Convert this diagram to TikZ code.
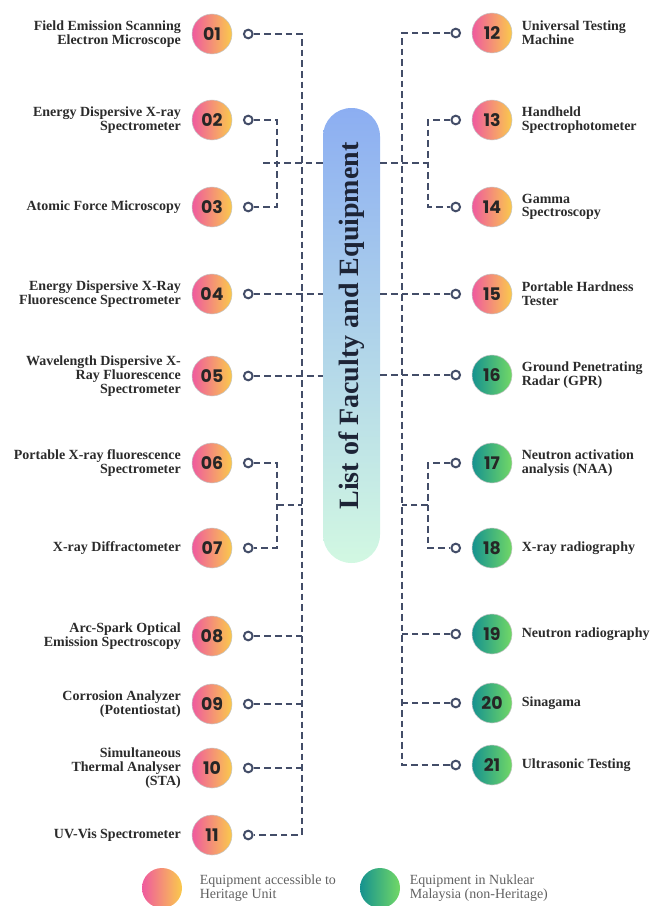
\documentclass[tikz,border=0pt]{standalone}
\usepackage{fontspec}
\setmainfont{Liberation Serif}
\newfontfamily\numfont{Poppins}
\usepackage{tikz}
\usetikzlibrary{positioning}
\definecolor{heritpink}{HTML}{EF5A9E}
\definecolor{heritgold}{HTML}{FACA4C}
\definecolor{nukteal}{HTML}{15928F}
\definecolor{nukgreen}{HTML}{72D866}
\definecolor{linkgray}{HTML}{434D68}
\definecolor{pilltop}{HTML}{8CAEF2}
\definecolor{pillbottom}{HTML}{D2F8E2}
\definecolor{labelink}{HTML}{2B2B2B}
\definecolor{titleink}{HTML}{1D2436}
\tikzstyle{heritage} = [circle,
					  minimum size=30pt,
					  inner sep=0pt,
					  left color=heritpink,
					  right color=heritgold,
					  draw=gray!45,
					  line width=0.4pt,
					  font=\numfont\bfseries\fontsize{13}{13}\selectfont,
					  text=black!85,
					 ]
\tikzstyle{nuklear} = [circle,
					  minimum size=30pt,
					  inner sep=0pt,
					  left color=nukteal,
					  right color=nukgreen,
					  draw=gray!45,
					  line width=0.4pt,
					  font=\numfont\bfseries\fontsize{13}{13}\selectfont,
					  text=black!85,
					 ]
\tikzstyle{port} = [circle,
					  minimum size=6.5pt,
					  inner sep=0pt,
					  draw=linkgray,
					  line width=1.5pt,
					  fill=white,
					 ]
\tikzstyle{leftlabel} = [align=right,
					  inner sep=0pt,
					  font=\bfseries\fontsize{10.5}{10.3}\selectfont,
					  text=labelink,
					 ]
\tikzstyle{rightlabel} = [align=left,
					  inner sep=0pt,
					  font=\bfseries\fontsize{10.5}{10.3}\selectfont,
					  text=labelink,
					 ]
\tikzstyle{legendtext} = [align=left,
					  inner sep=0pt,
					  font=\fontsize{10.5}{10.5}\selectfont,
					  text=black!62,
					 ]
\tikzstyle{pillbox} = [rectangle,
					  rounded corners=21.3pt,
					  minimum width=42.75pt,
					  minimum height=341.25pt,
					  top color=pilltop,
					  bottom color=pillbottom,
					 ]
\tikzstyle{link} = [draw=linkgray, line width=2pt, dash pattern=on 5pt off 3pt]

\begin{document}
\begin{tikzpicture}[x=0.75pt, y=-0.75pt]
\useasboundingbox (0,0) rectangle (653,906);

\node (pill) [pillbox] at (351.5,335.5) {};
\node (title) [rotate=90, font=\bfseries\fontsize{21}{21}\selectfont, text=titleink] at (352,326) {List of Faculty and Equipment};

% heritage unit side
\node (c01) [heritage] at (212,34) {01};
\node (c02) [heritage] at (212,120) {02};
\node (c03) [heritage] at (212,207) {03};
\node (c04) [heritage] at (212,294) {04};
\node (c05) [heritage] at (212,376) {05};
\node (c06) [heritage] at (212,463) {06};
\node (c07) [heritage] at (212,548) {07};
\node (c08) [heritage] at (212,636) {08};
\node (c09) [heritage] at (212,704) {09};
\node (c10) [heritage] at (212,768) {10};
\node (c11) [heritage] at (212,835) {11};

\node (l01) [leftlabel, left=8pt of c01] {Field Emission Scanning\\Electron Microscope};
\node (l02) [leftlabel, left=8pt of c02] {Energy Dispersive X-ray\\Spectrometer};
\node (l03) [leftlabel, left=8pt of c03] {Atomic Force Microscopy};
\node (l04) [leftlabel, left=8pt of c04] {Energy Dispersive X-Ray\\Fluorescence Spectrometer};
\node (l05) [leftlabel, left=8pt of c05] {Wavelength Dispersive X-\\Ray Fluorescence\\Spectrometer};
\node (l06) [leftlabel, left=8pt of c06] {Portable X-ray fluorescence\\Spectrometer};
\node (l07) [leftlabel, left=8pt of c07] {X-ray Diffractometer};
\node (l08) [leftlabel, left=8pt of c08] {Arc-Spark Optical\\Emission Spectroscopy};
\node (l09) [leftlabel, left=8pt of c09] {Corrosion Analyzer\\(Potentiostat)};
\node (l10) [leftlabel, left=8pt of c10] {Simultaneous\\Thermal Analyser\\(STA)};
\node (l11) [leftlabel, left=8pt of c11] {UV-Vis Spectrometer};

\node (p01) [port, right=8pt of c01] {};
\node (p02) [port, right=8pt of c02] {};
\node (p03) [port, right=8pt of c03] {};
\node (p04) [port, right=8pt of c04] {};
\node (p05) [port, right=8pt of c05] {};
\node (p06) [port, right=8pt of c06] {};
\node (p07) [port, right=8pt of c07] {};
\node (p08) [port, right=8pt of c08] {};
\node (p09) [port, right=8pt of c09] {};
\node (p10) [port, right=8pt of c10] {};
\node (p11) [port, right=8pt of c11] {};

% nuklear malaysia side
\node (c12) [heritage] at (492,33) {12};
\node (c13) [heritage] at (492,120) {13};
\node (c14) [heritage] at (492,207) {14};
\node (c15) [heritage] at (492,294) {15};
\node (c16) [nuklear] at (492,375) {16};
\node (c17) [nuklear] at (492,463) {17};
\node (c18) [nuklear] at (492,548) {18};
\node (c19) [nuklear] at (492,634) {19};
\node (c20) [nuklear] at (492,703) {20};
\node (c21) [nuklear] at (492,765) {21};

\node (l12) [rightlabel, right=7pt of c12] {Universal Testing\\Machine};
\node (l13) [rightlabel, right=7pt of c13] {Handheld\\Spectrophotometer};
\node (l14) [rightlabel, right=7pt of c14] {Gamma\\Spectroscopy};
\node (l15) [rightlabel, right=7pt of c15] {Portable Hardness\\Tester};
\node (l16) [rightlabel, right=7pt of c16] {Ground Penetrating\\Radar (GPR)};
\node (l17) [rightlabel, right=7pt of c17] {Neutron activation\\analysis (NAA)};
\node (l18) [rightlabel, right=7pt of c18] {X-ray radiography};
\node (l19) [rightlabel, right=7pt of c19] {Neutron radiography};
\node (l20) [rightlabel, right=7pt of c20] {Sinagama};
\node (l21) [rightlabel, right=7pt of c21] {Ultrasonic Testing};

\node (p12) [port, left=8pt of c12] {};
\node (p13) [port, left=8pt of c13] {};
\node (p14) [port, left=8pt of c14] {};
\node (p15) [port, left=8pt of c15] {};
\node (p16) [port, left=8pt of c16] {};
\node (p17) [port, left=8pt of c17] {};
\node (p18) [port, left=8pt of c18] {};
\node (p19) [port, left=8pt of c19] {};
\node (p20) [port, left=8pt of c20] {};
\node (p21) [port, left=8pt of c21] {};

\coordinate (trunkLtop) at (302,34);
\coordinate (trunkLbot) at (302,835);
\coordinate (trunkRtop) at (402,33);
\coordinate (trunkRbot) at (402,765);
\coordinate (forkL1) at (277,163);
\coordinate (forkL2) at (277,505);
\coordinate (forkR1) at (428,163);
\coordinate (forkR2) at (428,505);
\coordinate (stubL1) at (263,163);

\draw [link] (p01) -- (trunkLtop) -- (trunkLbot) -- (p11);
\draw [link] (p08) -- (p08 -| trunkLtop);
\draw [link] (p09) -- (p09 -| trunkLtop);
\draw [link] (p10) -- (p10 -| trunkLtop);
\draw [link] (p02) -| (forkL1) |- (p03);
\draw [link] (stubL1) -- (pill.west |- stubL1);
\draw [link] (p04) -- (pill.west |- p04);
\draw [link] (p05) -- (pill.west |- p05);
\draw [link] (p06) -| (forkL2) |- (p07);
\draw [link] (forkL2) -- (forkL2 -| trunkLtop);

\draw [link] (p12) -- (trunkRtop) -- (trunkRbot) -- (p21);
\draw [link] (p19) -- (p19 -| trunkRtop);
\draw [link] (p20) -- (p20 -| trunkRtop);
\draw [link] (pill.east |- stubL1) -- (forkR1);
\draw [link] (p13) -| (forkR1) |- (p14);
\draw [link] (pill.east |- p15) -- (p15);
\draw [link] (pill.east |- p16) -- (p16);
\draw [link] (p17) -| (forkR2) |- (p18);
\draw [link] (forkR2) -- (forkR2 -| trunkRtop);

% legend
\node (lgHer) [heritage, draw=none] at (162,888) {};
\node (lgHerText) [legendtext, right=13pt of lgHer] {Equipment accessible to\\Heritage Unit};
\node (lgNuk) [nuklear, draw=none] at (380,888) {};
\node (lgNukText) [legendtext, right=7pt of lgNuk] {Equipment in Nuklear\\Malaysia (non-Heritage)};

\end{tikzpicture}
\end{document}
